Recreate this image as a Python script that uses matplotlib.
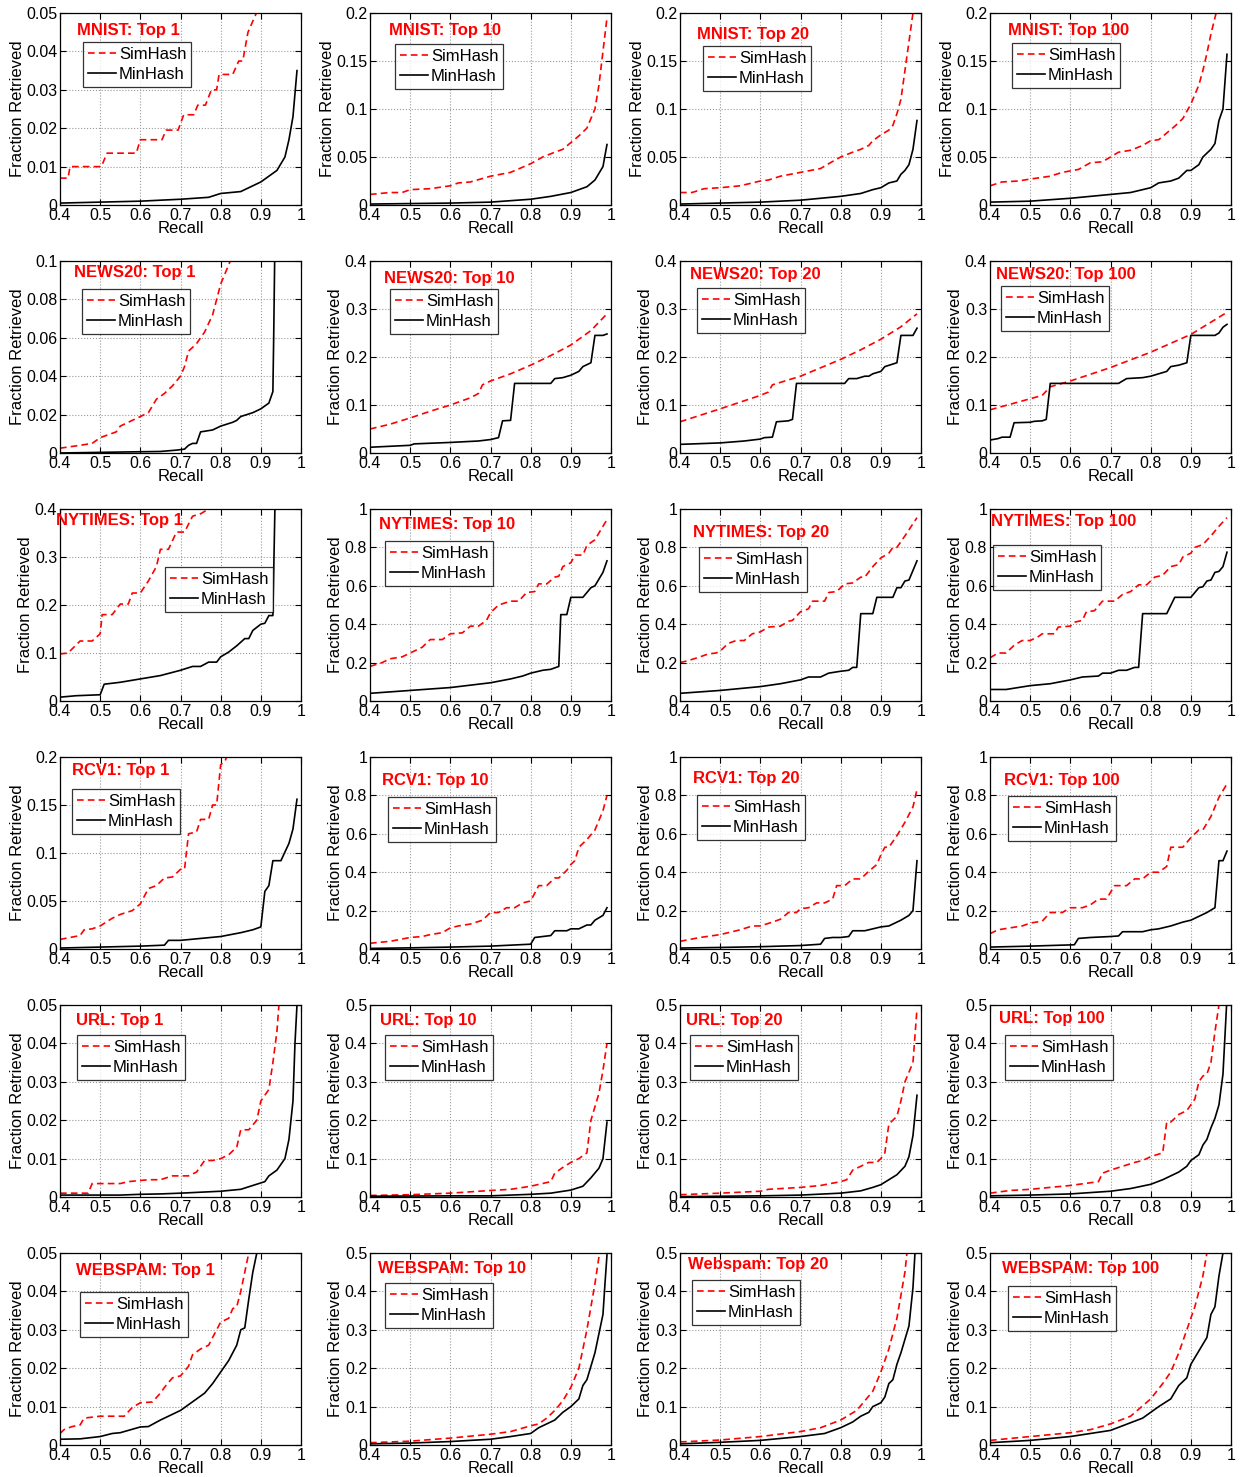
import matplotlib
matplotlib.use("Agg")
import matplotlib.pyplot as plt

plt.rcParams['font.family'] = ['Liberation Sans', 'DejaVu Sans']

# columns: Top 1, Top 10, Top 20, Top 100
tops = ["Top 1", "Top 10", "Top 20", "Top 100"]
datasets = ["MNIST", "NEWS20", "NYTIMES", "RCV1", "URL", "WEBSPAM"]

# y-axis upper limit and tick step per panel
ymax = [
    [0.05, 0.2, 0.2, 0.2],
    [0.1, 0.4, 0.4, 0.4],
    [0.4, 1, 1, 1],
    [0.2, 1, 1, 1],
    [0.05, 0.5, 0.5, 0.5],
    [0.05, 0.5, 0.5, 0.5],
]
ystep = [
    [0.01, 0.05, 0.05, 0.05],
    [0.02, 0.1, 0.1, 0.1],
    [0.1, 0.2, 0.2, 0.2],
    [0.05, 0.2, 0.2, 0.2],
    [0.01, 0.1, 0.1, 0.1],
    [0.01, 0.1, 0.1, 0.1],
]

# (recall, fraction retrieved)
mnist_sim = [
    [(0.40, 0.007), (0.42, 0.007), (0.425, 0.010), (0.503, 0.010), (0.517, 0.0135), (0.59, 0.0135),
     (0.60, 0.017), (0.654, 0.017), (0.664, 0.0195), (0.694, 0.0195), (0.708, 0.0235), (0.733, 0.0235),
     (0.743, 0.026), (0.762, 0.026), (0.777, 0.030), (0.79, 0.030), (0.796, 0.034), (0.83, 0.034),
     (0.845, 0.0375), (0.855, 0.0375), (0.868, 0.045), (0.889, 0.050), (0.90, 0.056)],
    [(0.40, 0.011), (0.45, 0.013), (0.48, 0.013), (0.50, 0.016), (0.55, 0.017), (0.60, 0.020),
     (0.62, 0.023), (0.65, 0.024), (0.70, 0.030), (0.75, 0.034), (0.80, 0.043), (0.83, 0.050),
     (0.86, 0.055), (0.88, 0.058), (0.90, 0.065), (0.92, 0.072), (0.94, 0.080), (0.96, 0.100),
     (0.97, 0.125), (0.98, 0.160), (0.99, 0.195)],
    [(0.40, 0.013), (0.43, 0.013), (0.46, 0.017), (0.50, 0.018), (0.55, 0.020), (0.60, 0.025),
     (0.62, 0.026), (0.65, 0.030), (0.70, 0.034), (0.75, 0.038), (0.77, 0.043), (0.80, 0.050),
     (0.83, 0.055), (0.85, 0.058), (0.87, 0.062), (0.88, 0.067), (0.90, 0.073), (0.92, 0.078),
     (0.93, 0.083), (0.94, 0.095), (0.95, 0.110), (0.96, 0.140), (0.97, 0.170), (0.98, 0.200),
     (0.985, 0.230)],
    [(0.40, 0.020), (0.43, 0.024), (0.47, 0.025), (0.50, 0.027), (0.55, 0.030), (0.58, 0.034),
     (0.62, 0.037), (0.65, 0.044), (0.68, 0.045), (0.70, 0.050), (0.72, 0.055), (0.75, 0.057),
     (0.78, 0.062), (0.80, 0.067), (0.82, 0.068), (0.84, 0.075), (0.86, 0.082), (0.88, 0.090),
     (0.90, 0.105), (0.92, 0.125), (0.93, 0.140), (0.94, 0.158), (0.95, 0.178), (0.96, 0.195),
     (0.975, 0.220)],
]
mnist_min = [
    [(0.40, 0.0005), (0.60, 0.001), (0.70, 0.0015), (0.77, 0.002), (0.80, 0.003), (0.85, 0.0035),
     (0.88, 0.005), (0.90, 0.006), (0.92, 0.0075), (0.94, 0.009), (0.96, 0.0125), (0.97, 0.017),
     (0.98, 0.023), (0.99, 0.035)],
    [(0.40, 0.001), (0.60, 0.002), (0.70, 0.003), (0.80, 0.006), (0.85, 0.009), (0.90, 0.013),
     (0.92, 0.016), (0.94, 0.019), (0.96, 0.026), (0.98, 0.040), (0.99, 0.063)],
    [(0.40, 0.001), (0.50, 0.002), (0.60, 0.003), (0.70, 0.005), (0.80, 0.009), (0.85, 0.012),
     (0.88, 0.016), (0.90, 0.018), (0.92, 0.023), (0.94, 0.025), (0.95, 0.032), (0.96, 0.036),
     (0.97, 0.042), (0.98, 0.058), (0.99, 0.088)],
    [(0.40, 0.003), (0.50, 0.004), (0.60, 0.007), (0.70, 0.011), (0.75, 0.013), (0.80, 0.018),
     (0.82, 0.023), (0.85, 0.025), (0.87, 0.028), (0.89, 0.036), (0.90, 0.036), (0.92, 0.042),
     (0.93, 0.050), (0.95, 0.058), (0.96, 0.064), (0.97, 0.088), (0.98, 0.100), (0.99, 0.157)],
]

news20_sim = [
    [(0.40, 0.0025), (0.45, 0.004), (0.48, 0.005), (0.50, 0.008), (0.54, 0.011), (0.55, 0.014),
     (0.60, 0.019), (0.62, 0.021), (0.64, 0.028), (0.66, 0.031), (0.68, 0.035), (0.70, 0.040),
     (0.71, 0.045), (0.72, 0.053), (0.74, 0.057), (0.76, 0.063), (0.78, 0.072), (0.79, 0.080),
     (0.80, 0.088), (0.82, 0.098), (0.83, 0.103)],
    [(0.40, 0.050), (0.45, 0.060), (0.50, 0.073), (0.55, 0.087), (0.60, 0.100), (0.65, 0.115),
     (0.67, 0.124), (0.68, 0.142), (0.70, 0.150), (0.75, 0.165), (0.80, 0.183), (0.85, 0.203),
     (0.90, 0.225), (0.95, 0.255), (0.99, 0.290)],
    [(0.40, 0.065), (0.50, 0.092), (0.60, 0.120), (0.62, 0.127), (0.63, 0.142), (0.70, 0.160),
     (0.80, 0.195), (0.85, 0.215), (0.90, 0.237), (0.95, 0.263), (0.99, 0.290)],
    [(0.40, 0.090), (0.50, 0.113), (0.53, 0.120), (0.55, 0.138), (0.60, 0.150), (0.70, 0.178),
     (0.80, 0.210), (0.90, 0.247), (0.99, 0.293)],
]
news20_min = [
    [(0.40, 0.0), (0.55, 0.0005), (0.65, 0.0008), (0.69, 0.0015), (0.71, 0.002), (0.72, 0.004),
     (0.73, 0.005), (0.74, 0.005), (0.75, 0.011), (0.78, 0.012), (0.80, 0.014), (0.83, 0.016),
     (0.84, 0.017), (0.85, 0.019), (0.88, 0.021), (0.90, 0.023), (0.92, 0.026), (0.93, 0.032),
     (0.932, 0.060), (0.935, 0.110)],
    [(0.40, 0.012), (0.50, 0.016), (0.51, 0.019), (0.60, 0.022), (0.67, 0.025), (0.70, 0.028),
     (0.72, 0.032), (0.73, 0.067), (0.75, 0.068), (0.76, 0.145), (0.85, 0.145), (0.86, 0.155),
     (0.88, 0.157), (0.90, 0.162), (0.92, 0.170), (0.93, 0.180), (0.95, 0.188), (0.96, 0.245),
     (0.98, 0.245), (0.99, 0.248)],
    [(0.40, 0.018), (0.50, 0.021), (0.56, 0.025), (0.60, 0.029), (0.61, 0.032), (0.63, 0.033),
     (0.64, 0.065), (0.67, 0.067), (0.68, 0.070), (0.69, 0.145), (0.81, 0.145), (0.82, 0.155),
     (0.84, 0.155), (0.86, 0.160), (0.87, 0.160), (0.88, 0.165), (0.90, 0.170), (0.91, 0.180),
     (0.94, 0.188), (0.95, 0.245), (0.98, 0.245), (0.99, 0.260)],
    [(0.40, 0.027), (0.42, 0.030), (0.43, 0.033), (0.45, 0.033), (0.46, 0.063), (0.50, 0.064),
     (0.51, 0.066), (0.53, 0.067), (0.54, 0.070), (0.55, 0.145), (0.72, 0.145), (0.74, 0.155),
     (0.78, 0.157), (0.80, 0.160), (0.82, 0.165), (0.84, 0.170), (0.85, 0.180), (0.87, 0.183),
     (0.89, 0.188), (0.90, 0.245), (0.96, 0.245), (0.97, 0.250), (0.98, 0.262), (0.99, 0.268)],
]

nytimes_sim = [
    [(0.40, 0.098), (0.42, 0.100), (0.45, 0.125), (0.48, 0.125), (0.50, 0.140), (0.505, 0.180),
     (0.53, 0.180), (0.55, 0.202), (0.57, 0.202), (0.58, 0.225), (0.60, 0.225), (0.62, 0.250),
     (0.64, 0.280), (0.65, 0.316), (0.67, 0.316), (0.69, 0.352), (0.71, 0.352), (0.73, 0.385),
     (0.75, 0.390), (0.77, 0.400), (0.78, 0.420)],
    [(0.40, 0.18), (0.43, 0.20), (0.45, 0.22), (0.48, 0.23), (0.50, 0.25), (0.53, 0.28), (0.55, 0.32),
     (0.58, 0.32), (0.60, 0.35), (0.63, 0.355), (0.65, 0.39), (0.67, 0.39), (0.69, 0.42), (0.70, 0.46),
     (0.72, 0.50), (0.75, 0.52), (0.77, 0.52), (0.79, 0.565), (0.81, 0.57), (0.82, 0.61), (0.84, 0.61),
     (0.86, 0.645), (0.87, 0.65), (0.88, 0.70), (0.90, 0.72), (0.91, 0.76), (0.93, 0.76), (0.94, 0.81),
     (0.96, 0.84), (0.99, 0.945)],
    [(0.40, 0.20), (0.42, 0.21), (0.45, 0.23), (0.47, 0.245), (0.49, 0.25), (0.50, 0.26), (0.52, 0.30),
     (0.54, 0.315), (0.56, 0.315), (0.58, 0.35), (0.60, 0.36), (0.62, 0.385), (0.65, 0.39), (0.67, 0.415),
     (0.68, 0.42), (0.70, 0.465), (0.72, 0.48), (0.73, 0.52), (0.76, 0.52), (0.77, 0.565), (0.79, 0.57),
     (0.81, 0.61), (0.83, 0.615), (0.85, 0.645), (0.86, 0.645), (0.88, 0.70), (0.90, 0.745), (0.92, 0.77),
     (0.93, 0.80), (0.94, 0.80), (0.96, 0.86), (0.99, 0.955)],
    [(0.40, 0.225), (0.42, 0.25), (0.44, 0.25), (0.46, 0.29), (0.48, 0.315), (0.50, 0.315), (0.52, 0.335),
     (0.53, 0.35), (0.56, 0.35), (0.57, 0.385), (0.60, 0.39), (0.61, 0.41), (0.63, 0.42), (0.64, 0.465),
     (0.66, 0.47), (0.68, 0.52), (0.71, 0.52), (0.73, 0.555), (0.75, 0.57), (0.77, 0.605), (0.79, 0.605),
     (0.81, 0.645), (0.83, 0.655), (0.85, 0.70), (0.87, 0.71), (0.88, 0.75), (0.90, 0.77), (0.91, 0.80),
     (0.93, 0.815), (0.95, 0.86), (0.97, 0.91), (0.99, 0.955)],
]
nytimes_min = [
    [(0.40, 0.008), (0.44, 0.011), (0.50, 0.013), (0.51, 0.035), (0.55, 0.039), (0.60, 0.046),
     (0.65, 0.053), (0.70, 0.064), (0.73, 0.072), (0.75, 0.072), (0.77, 0.081), (0.79, 0.081),
     (0.80, 0.092), (0.82, 0.102), (0.84, 0.115), (0.86, 0.130), (0.87, 0.130), (0.88, 0.147),
     (0.90, 0.160), (0.91, 0.162), (0.92, 0.178), (0.93, 0.178), (0.935, 0.400), (0.937, 0.450)],
    [(0.40, 0.040), (0.50, 0.055), (0.60, 0.070), (0.70, 0.095), (0.75, 0.115), (0.78, 0.130),
     (0.80, 0.145), (0.83, 0.160), (0.85, 0.165), (0.87, 0.180), (0.875, 0.450), (0.89, 0.450),
     (0.90, 0.540), (0.93, 0.540), (0.95, 0.590), (0.96, 0.600), (0.98, 0.670), (0.99, 0.730)],
    [(0.40, 0.040), (0.50, 0.055), (0.60, 0.075), (0.65, 0.090), (0.70, 0.110), (0.72, 0.125),
     (0.75, 0.125), (0.77, 0.145), (0.80, 0.155), (0.82, 0.160), (0.83, 0.175), (0.84, 0.175),
     (0.85, 0.455), (0.88, 0.455), (0.89, 0.540), (0.93, 0.540), (0.94, 0.590), (0.95, 0.590),
     (0.96, 0.625), (0.97, 0.630), (0.99, 0.730)],
    [(0.40, 0.060), (0.44, 0.060), (0.47, 0.070), (0.50, 0.080), (0.55, 0.090), (0.60, 0.110),
     (0.63, 0.125), (0.67, 0.130), (0.68, 0.145), (0.70, 0.145), (0.72, 0.160), (0.74, 0.160),
     (0.76, 0.175), (0.77, 0.175), (0.78, 0.455), (0.84, 0.455), (0.86, 0.540), (0.90, 0.540),
     (0.92, 0.590), (0.93, 0.595), (0.94, 0.625), (0.95, 0.630), (0.96, 0.670), (0.97, 0.675),
     (0.98, 0.700), (0.99, 0.775)],
]

rcv1_sim = [
    [(0.40, 0.010), (0.45, 0.014), (0.46, 0.020), (0.48, 0.021), (0.50, 0.024), (0.53, 0.032),
     (0.55, 0.036), (0.58, 0.040), (0.60, 0.047), (0.62, 0.063), (0.64, 0.066), (0.66, 0.074),
     (0.68, 0.075), (0.70, 0.083), (0.71, 0.083), (0.72, 0.120), (0.74, 0.122), (0.75, 0.135),
     (0.77, 0.135), (0.78, 0.150), (0.79, 0.150), (0.80, 0.192), (0.81, 0.195), (0.82, 0.205)],
    [(0.40, 0.03), (0.45, 0.04), (0.50, 0.06), (0.53, 0.065), (0.55, 0.075), (0.58, 0.085), (0.60, 0.11),
     (0.62, 0.12), (0.65, 0.13), (0.68, 0.15), (0.70, 0.19), (0.72, 0.19), (0.74, 0.215), (0.76, 0.215),
     (0.78, 0.24), (0.80, 0.25), (0.82, 0.33), (0.84, 0.33), (0.86, 0.37), (0.87, 0.37), (0.89, 0.41),
     (0.90, 0.44), (0.91, 0.46), (0.92, 0.53), (0.94, 0.57), (0.96, 0.62), (0.98, 0.72), (0.99, 0.80)],
    [(0.40, 0.04), (0.45, 0.06), (0.50, 0.075), (0.55, 0.10), (0.58, 0.12), (0.60, 0.12), (0.63, 0.14),
     (0.65, 0.155), (0.67, 0.19), (0.69, 0.19), (0.70, 0.21), (0.72, 0.215), (0.74, 0.24), (0.76, 0.24),
     (0.78, 0.26), (0.79, 0.33), (0.81, 0.33), (0.83, 0.365), (0.85, 0.365), (0.87, 0.405), (0.89, 0.44),
     (0.90, 0.49), (0.91, 0.53), (0.92, 0.53), (0.94, 0.59), (0.96, 0.66), (0.98, 0.74), (0.99, 0.83)],
    [(0.40, 0.08), (0.42, 0.10), (0.45, 0.11), (0.48, 0.12), (0.50, 0.135), (0.53, 0.145), (0.55, 0.19),
     (0.58, 0.19), (0.60, 0.215), (0.63, 0.215), (0.65, 0.23), (0.67, 0.26), (0.69, 0.26), (0.71, 0.33),
     (0.74, 0.33), (0.76, 0.365), (0.78, 0.365), (0.80, 0.40), (0.82, 0.40), (0.84, 0.43), (0.85, 0.53),
     (0.88, 0.53), (0.90, 0.58), (0.92, 0.62), (0.93, 0.62), (0.95, 0.69), (0.97, 0.79), (0.99, 0.86)],
]
rcv1_min = [
    [(0.40, 0.001), (0.50, 0.002), (0.60, 0.003), (0.66, 0.004), (0.67, 0.009), (0.70, 0.009),
     (0.75, 0.011), (0.80, 0.013), (0.85, 0.017), (0.88, 0.020), (0.90, 0.023), (0.91, 0.060),
     (0.92, 0.066), (0.93, 0.092), (0.95, 0.092), (0.97, 0.110), (0.98, 0.125), (0.99, 0.156)],
    [(0.40, 0.003), (0.50, 0.006), (0.60, 0.010), (0.70, 0.015), (0.75, 0.020), (0.80, 0.025),
     (0.81, 0.060), (0.83, 0.065), (0.85, 0.070), (0.86, 0.095), (0.89, 0.095), (0.90, 0.105),
     (0.92, 0.105), (0.94, 0.125), (0.95, 0.125), (0.96, 0.150), (0.98, 0.175), (0.99, 0.215)],
    [(0.40, 0.005), (0.50, 0.008), (0.60, 0.012), (0.70, 0.018), (0.75, 0.025), (0.76, 0.055),
     (0.78, 0.060), (0.80, 0.060), (0.82, 0.065), (0.83, 0.095), (0.86, 0.095), (0.88, 0.105),
     (0.90, 0.115), (0.92, 0.120), (0.93, 0.130), (0.95, 0.150), (0.97, 0.175), (0.98, 0.200),
     (0.99, 0.460)],
    [(0.40, 0.010), (0.50, 0.015), (0.61, 0.022), (0.62, 0.055), (0.65, 0.060), (0.70, 0.065),
     (0.72, 0.068), (0.73, 0.090), (0.78, 0.090), (0.80, 0.100), (0.82, 0.105), (0.85, 0.120),
     (0.88, 0.140), (0.90, 0.150), (0.92, 0.170), (0.94, 0.190), (0.96, 0.215), (0.97, 0.460),
     (0.98, 0.460), (0.99, 0.510)],
]

url_sim = [
    [(0.40, 0.001), (0.47, 0.001), (0.48, 0.0035), (0.55, 0.0035), (0.57, 0.004), (0.62, 0.0045),
     (0.65, 0.0045), (0.68, 0.0055), (0.72, 0.0055), (0.74, 0.0065), (0.76, 0.0095), (0.78, 0.0095),
     (0.80, 0.010), (0.82, 0.011), (0.84, 0.013), (0.85, 0.0175), (0.87, 0.0175), (0.89, 0.020),
     (0.90, 0.025), (0.92, 0.028), (0.93, 0.035), (0.94, 0.043), (0.945, 0.050)],
    [(0.40, 0.004), (0.50, 0.006), (0.60, 0.010), (0.70, 0.017), (0.75, 0.020), (0.80, 0.028),
     (0.85, 0.040), (0.86, 0.062), (0.88, 0.077), (0.90, 0.090), (0.92, 0.100), (0.94, 0.115),
     (0.95, 0.200), (0.97, 0.270), (0.98, 0.330), (0.99, 0.400)],
    [(0.40, 0.006), (0.50, 0.010), (0.60, 0.015), (0.62, 0.020), (0.70, 0.025), (0.75, 0.030),
     (0.80, 0.040), (0.815, 0.045), (0.83, 0.070), (0.85, 0.080), (0.87, 0.090), (0.89, 0.090),
     (0.90, 0.100), (0.91, 0.115), (0.92, 0.190), (0.94, 0.210), (0.95, 0.250), (0.96, 0.300),
     (0.98, 0.350), (0.99, 0.490)],
    [(0.40, 0.010), (0.45, 0.017), (0.50, 0.020), (0.55, 0.025), (0.60, 0.030), (0.67, 0.040),
     (0.68, 0.062), (0.70, 0.070), (0.73, 0.080), (0.76, 0.090), (0.78, 0.095), (0.80, 0.105),
     (0.83, 0.115), (0.84, 0.195), (0.85, 0.195), (0.87, 0.215), (0.89, 0.225), (0.90, 0.240),
     (0.91, 0.255), (0.92, 0.300), (0.93, 0.315), (0.94, 0.320), (0.95, 0.350), (0.96, 0.430),
     (0.97, 0.500)],
]
url_min = [
    [(0.40, 0.0005), (0.55, 0.0005), (0.60, 0.0007), (0.65, 0.0008), (0.70, 0.001), (0.80, 0.0015),
     (0.85, 0.002), (0.88, 0.003), (0.91, 0.004), (0.92, 0.0055), (0.94, 0.007), (0.96, 0.010),
     (0.97, 0.015), (0.98, 0.025), (0.985, 0.040), (0.99, 0.050)],
    [(0.40, 0.002), (0.60, 0.003), (0.70, 0.003), (0.80, 0.007), (0.85, 0.010), (0.90, 0.018),
     (0.93, 0.028), (0.95, 0.050), (0.97, 0.075), (0.98, 0.100), (0.99, 0.195)],
    [(0.40, 0.001), (0.60, 0.003), (0.70, 0.005), (0.80, 0.010), (0.85, 0.016), (0.88, 0.025),
     (0.90, 0.032), (0.92, 0.045), (0.94, 0.058), (0.96, 0.080), (0.97, 0.105), (0.98, 0.160),
     (0.99, 0.265)],
    [(0.40, 0.003), (0.50, 0.005), (0.60, 0.008), (0.70, 0.015), (0.75, 0.022), (0.80, 0.033),
     (0.83, 0.045), (0.85, 0.055), (0.87, 0.065), (0.89, 0.080), (0.90, 0.095), (0.92, 0.110),
     (0.93, 0.135), (0.94, 0.150), (0.95, 0.180), (0.96, 0.205), (0.97, 0.240), (0.98, 0.320),
     (0.985, 0.420), (0.99, 0.520)],
]

webspam_sim = [
    [(0.40, 0.003), (0.41, 0.004), (0.43, 0.0048), (0.45, 0.0052), (0.46, 0.007), (0.50, 0.0075),
     (0.56, 0.0075), (0.58, 0.0098), (0.60, 0.011), (0.63, 0.0112), (0.65, 0.0135), (0.66, 0.015),
     (0.68, 0.0175), (0.70, 0.018), (0.72, 0.0205), (0.73, 0.0235), (0.75, 0.025), (0.77, 0.026),
     (0.79, 0.030), (0.80, 0.032), (0.82, 0.033), (0.83, 0.0355), (0.84, 0.036), (0.85, 0.040),
     (0.86, 0.045), (0.87, 0.050)],
    [(0.40, 0.006), (0.50, 0.010), (0.60, 0.018), (0.70, 0.028), (0.75, 0.035), (0.80, 0.050),
     (0.82, 0.055), (0.84, 0.070), (0.86, 0.090), (0.88, 0.115), (0.90, 0.150), (0.92, 0.200),
     (0.94, 0.300), (0.96, 0.420), (0.97, 0.490)],
    [(0.40, 0.008), (0.50, 0.013), (0.60, 0.022), (0.70, 0.035), (0.75, 0.045), (0.80, 0.065),
     (0.84, 0.090), (0.86, 0.115), (0.88, 0.140), (0.90, 0.190), (0.92, 0.250), (0.94, 0.330),
     (0.95, 0.390), (0.96, 0.450), (0.965, 0.500)],
    [(0.40, 0.012), (0.50, 0.022), (0.60, 0.032), (0.65, 0.040), (0.70, 0.055), (0.75, 0.075),
     (0.80, 0.120), (0.83, 0.160), (0.85, 0.190), (0.87, 0.240), (0.89, 0.300), (0.91, 0.360),
     (0.93, 0.440), (0.94, 0.500)],
]
webspam_min = [
    [(0.40, 0.0015), (0.45, 0.0016), (0.50, 0.0022), (0.53, 0.003), (0.55, 0.0032), (0.60, 0.0047),
     (0.62, 0.0048), (0.65, 0.0065), (0.68, 0.008), (0.70, 0.009), (0.72, 0.0105), (0.74, 0.012),
     (0.76, 0.0135), (0.78, 0.016), (0.80, 0.019), (0.82, 0.022), (0.84, 0.026), (0.85, 0.030),
     (0.86, 0.0305), (0.87, 0.038), (0.88, 0.045), (0.89, 0.050)],
    [(0.40, 0.003), (0.50, 0.005), (0.60, 0.009), (0.70, 0.015), (0.75, 0.022), (0.80, 0.030),
     (0.82, 0.045), (0.84, 0.055), (0.86, 0.065), (0.88, 0.085), (0.90, 0.100), (0.92, 0.120),
     (0.93, 0.155), (0.94, 0.170), (0.96, 0.240), (0.98, 0.340), (0.985, 0.420), (0.99, 0.495)],
    [(0.40, 0.003), (0.50, 0.007), (0.60, 0.012), (0.70, 0.022), (0.76, 0.030), (0.80, 0.045),
     (0.83, 0.060), (0.85, 0.075), (0.87, 0.085), (0.88, 0.100), (0.90, 0.110), (0.91, 0.125),
     (0.92, 0.160), (0.93, 0.170), (0.94, 0.210), (0.95, 0.240), (0.97, 0.310), (0.98, 0.410),
     (0.985, 0.500)],
    [(0.40, 0.006), (0.50, 0.012), (0.60, 0.022), (0.70, 0.038), (0.75, 0.058), (0.78, 0.070),
     (0.80, 0.085), (0.82, 0.100), (0.85, 0.120), (0.87, 0.155), (0.89, 0.175), (0.90, 0.210),
     (0.92, 0.245), (0.94, 0.280), (0.95, 0.340), (0.96, 0.360), (0.97, 0.440), (0.98, 0.500)],
]

sim_all = [mnist_sim, news20_sim, nytimes_sim, rcv1_sim, url_sim, webspam_sim]
min_all = [mnist_min, news20_min, nytimes_min, rcv1_min, url_min, webspam_min]

# title and legend placement, pixel offsets from the axes top-left corner
title_off = [
    [(17, 17), (19, 18), (17, 21), (18, 17)],
    [(14, 12), (14, 17), (10, 13), (6, 13)],
    [(-4, 11), (9, 15), (13, 23), (1, 12)],
    [(12, 13), (12, 23), (13, 22), (14, 23)],
    [(16, 16), (10, 16), (6, 16), (9, 13)],
    [(16, 17), (8, 15), (8, 12), (12, 16)],
]
legend_off = [
    [(23, 29), (25, 31), (23, 33), (22, 30)],
    [(22, 28), (20, 28), (17, 27), (11, 25)],
    [(105, 58), (15, 32), (19, 38), (3, 36)],
    [(12, 32), (18, 40), (17, 38), (18, 39)],
    [(17, 30), (15, 30), (10, 30), (15, 30)],
    [(20, 39), (15, 30), (12, 27), (18, 33)],
]

W, H = 1241, 1477
AX_W, AX_H = 241, 192
fig = plt.figure(figsize=(W / 100, H / 100), dpi=100)

for i in range(6):
    for j in range(4):
        left = 60 + 310 * j
        top = 13 + 248 * i
        ax = fig.add_axes([left / W, 1 - (top + AX_H) / H, AX_W / W, AX_H / H])
        s = sim_all[i][j]
        m = min_all[i][j]
        ax.plot([p[0] for p in s], [p[1] for p in s], color='red', linestyle='--',
                dashes=(4, 2.5), linewidth=1.2, label='SimHash')
        ax.plot([p[0] for p in m], [p[1] for p in m], color='black', linewidth=1.2,
                label='MinHash')
        ax.set_xlim(0.4, 1)
        ax.set_ylim(0, ymax[i][j])
        ax.set_xticks([0.4, 0.5, 0.6, 0.7, 0.8, 0.9, 1.0])
        n = int(round(ymax[i][j] / ystep[i][j]))
        ax.set_yticks([k * ystep[i][j] for k in range(n + 1)])
        ax.xaxis.set_major_formatter(plt.FormatStrFormatter('%g'))
        ax.yaxis.set_major_formatter(plt.FuncFormatter(lambda v, p: '%g' % round(v, 4)))
        ax.tick_params(direction='in', top=True, right=True, labelsize=11.5, length=4,
                       pad=2, width=0.8)
        ax.grid(True, linestyle=':', color='#9a9a9a', linewidth=0.8)
        for sp in ax.spines.values():
            sp.set_linewidth(0.9)
        ax.set_xlabel('Recall', fontsize=12, labelpad=-1)
        ax.set_ylabel('Fraction Retrieved', fontsize=12, labelpad=1)

        name = datasets[i]
        if i == 5 and j == 2:
            name = 'Webspam'
        tx, ty = title_off[i][j]
        ax.text(tx / AX_W, 1 - ty / AX_H, name + ': ' + tops[j], transform=ax.transAxes,
                color='red', fontsize=12, fontweight='bold', va='center', ha='left')
        lx, ly = legend_off[i][j]
        leg = ax.legend(loc='upper left', bbox_to_anchor=(lx / AX_W, 1 - ly / AX_H),
                        fontsize=12, frameon=True, fancybox=False, handlelength=1.7,
                        handletextpad=0.15, borderpad=0.3, labelspacing=0.3,
                        borderaxespad=0)
        leg.get_frame().set_edgecolor('black')
        leg.get_frame().set_linewidth(0.9)

fig.savefig('out.png', dpi=100)
